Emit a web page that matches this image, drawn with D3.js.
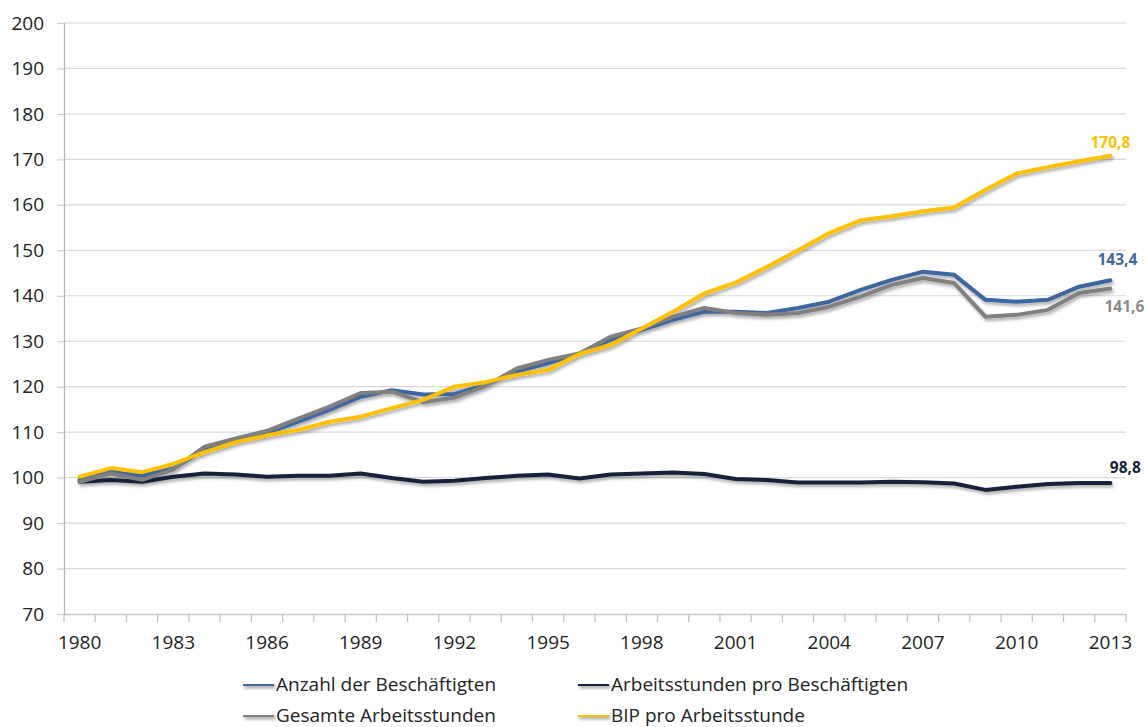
<!DOCTYPE html>
<html>
<head>
<meta charset="utf-8">
<script src="https://cdn.jsdelivr.net/npm/d3@7"></script>
<style>
    body { margin: 0; background: #fff; }
    svg { display: block; font-family: "Open Sans", sans-serif; }
    .grid line { stroke: #d9d9d9; stroke-width: 1.2; }
    .tick-label { font-size: 19px; fill: #222; }
    .end-label { font-size: 15.5px; font-weight: bold; }
    .legend text { font-size: 19px; fill: #222; }
</style>
</head>
<body>
<div id="chart"></div>
<script>
// Index 1980 = 100
var years = d3.range(1980, 2014);

var anzahl = [99.5, 101.3, 100.4, 102.0, 106.1, 108.0, 109.8, 112.3, 114.9, 117.8,
    119.2, 118.3, 118.4, 120.4, 123.3, 125.2, 127.3, 130.3, 132.5, 134.7,
    136.5, 136.5, 136.2, 137.3, 138.7, 141.3, 143.5, 145.3, 144.6, 139.1,
    138.7, 139.1, 142.0, 143.4];

var stundenProKopf = [99.1, 99.5, 99.1, 100.2, 100.9, 100.7, 100.2, 100.4, 100.4, 100.9,
    99.9, 99.1, 99.3, 99.9, 100.4, 100.7, 99.8, 100.7, 100.9, 101.1,
    100.8, 99.7, 99.5, 98.9, 98.9, 98.9, 99.1, 99.0, 98.7, 97.3,
    98.0, 98.6, 98.8, 98.8];

var gesamtStunden = [99.1, 100.9, 99.5, 101.8, 106.8, 108.6, 110.3, 113.0, 115.6, 118.6,
    118.9, 116.6, 117.6, 120.2, 124.0, 125.9, 127.3, 131.0, 132.8, 135.4,
    137.3, 136.2, 135.8, 136.2, 137.6, 139.8, 142.4, 143.9, 142.8, 135.4,
    135.8, 136.9, 140.6, 141.6];

var bipProStunde = [100.2, 102.1, 101.2, 103.0, 105.6, 107.8, 109.3, 110.5, 112.3, 113.4,
    115.3, 117.1, 120.0, 121.0, 122.6, 123.7, 127.2, 129.2, 132.8, 136.5,
    140.5, 142.9, 146.3, 150.0, 153.8, 156.6, 157.5, 158.6, 159.4, 163.3,
    166.9, 168.3, 169.6, 170.8];

var yTicks = d3.range(70, 201, 10);
var xTickYears = d3.range(1980, 2014, 3);

var series = [
    { name: "Anzahl der Beschäftigten", values: anzahl, color: "#3e679f", labelColor: "#3e679f", dx: 7, dy: -19 },
    { name: "Arbeitsstunden pro Beschäftigten", values: stundenProKopf, color: "#16223d", labelColor: "#16223d", dx: 15, dy: -14 },
    { name: "Gesamte Arbeitsstunden", values: gesamtStunden, color: "#808080", labelColor: "#8a8a8a", dx: 14, dy: 19 },
    { name: "BIP pro Arbeitsstunde", values: bipProStunde, color: "#ffc000", labelColor: "#ffc000", dx: 0, dy: -12 }
];

var width = 1146, height = 727;
var svg = d3.select("#chart").append("svg").attr("width", width).attr("height", height);

// soft drop shadow like the spreadsheet lines; user space so flat lines keep it too
var defs = svg.append("defs");
defs.append("filter").attr("id", "shadow")
    .attr("filterUnits", "userSpaceOnUse")
    .attr("x", 0).attr("y", 0).attr("width", width).attr("height", height)
  .append("feDropShadow")
    .attr("dx", 1.5).attr("dy", 2.5).attr("stdDeviation", 1.6)
    .attr("flood-color", "#000").attr("flood-opacity", 0.32);

var plot = { left: 64, right: 1126, top: 23, bottom: 614 };

var x = d3.scaleBand().domain(years).range([plot.left, plot.right]).paddingInner(0).paddingOuter(0);
var y = d3.scaleLinear().domain([70, 200]).range([plot.bottom, plot.top]);
var cx = function (yr) { return x(yr) + x.bandwidth() / 2; };

// gridlines
svg.append("g").attr("class", "grid")
    .selectAll("line")
    .data(yTicks.slice(1))
    .enter().append("line")
    .attr("x1", plot.left).attr("x2", plot.right)
    .attr("y1", function (d) { return y(d); })
    .attr("y2", function (d) { return y(d); });

// y axis
var yAxis = svg.append("g")
    .attr("transform", "translate(" + plot.left + ",0)")
    .call(d3.axisLeft(y).tickValues(yTicks).tickSize(7).tickPadding(13).tickFormat(d3.format("d")))
    .attr("font-family", null).attr("font-size", null);
yAxis.select(".domain").attr("stroke", "#b3b3b3").attr("stroke-width", 1.2);
yAxis.selectAll(".tick line").attr("stroke", "#cfcfcf").attr("stroke-width", 1.2);
yAxis.selectAll(".tick text").attr("class", "tick-label");

// x axis
var xAxis = svg.append("g")
    .attr("transform", "translate(0," + plot.bottom + ")")
    .call(d3.axisBottom(x).tickValues(xTickYears).tickSize(0).tickPadding(22))
    .attr("font-family", null).attr("font-size", null);
xAxis.select(".domain").attr("stroke", "#c8c8c8").attr("stroke-width", 1.5);
xAxis.selectAll(".tick text").attr("class", "tick-label");

// tick marks between categories
var edges = years.map(function (d) { return x(d); }).concat([plot.right]);
xAxis.selectAll(".edge")
    .data(edges)
    .enter().append("line")
    .attr("class", "edge")
    .attr("x1", function (d) { return d; })
    .attr("x2", function (d) { return d; })
    .attr("y1", 0).attr("y2", 8)
    .attr("stroke", "#bdbdbd").attr("stroke-width", 1.2);

// lines
var line = d3.line()
    .x(function (d, i) { return cx(years[i]); })
    .y(function (d) { return y(d); });

svg.append("g").attr("filter", "url(#shadow)")
    .selectAll("path")
    .data(series)
    .enter().append("path")
    .attr("d", function (d) { return line(d.values); })
    .attr("fill", "none")
    .attr("stroke", function (d) { return d.color; })
    .attr("stroke-width", 4)
    .attr("stroke-linejoin", "round")
    .attr("stroke-linecap", "round");

// end value labels
var fmt = function (v) { return v.toFixed(1).replace(".", ","); };
var last = years.length - 1;
svg.append("g")
    .selectAll("text")
    .data(series)
    .enter().append("text")
    .attr("class", "end-label")
    .attr("x", function (d) { return cx(years[last]) + d.dx; })
    .attr("y", function (d) { return y(d.values[last]) + d.dy; })
    .attr("text-anchor", "middle")
    .attr("dominant-baseline", "middle")
    .attr("fill", function (d) { return d.labelColor; })
    .text(function (d) { return fmt(d.values[last]); });

// legend
var legendPos = [
    { x: 243, y: 684 },
    { x: 578, y: 684 },
    { x: 243, y: 715 },
    { x: 578, y: 715 }
];
var legend = svg.append("g").attr("class", "legend")
    .selectAll("g")
    .data(series)
    .enter().append("g")
    .attr("transform", function (d, i) { return "translate(" + legendPos[i].x + "," + legendPos[i].y + ")"; });

legend.append("line")
    .attr("x1", 0).attr("x2", 31)
    .attr("y1", 0).attr("y2", 0)
    .attr("stroke", function (d) { return d.color; })
    .attr("stroke-width", 4)
    .attr("filter", "url(#shadow)");

legend.append("text")
    .attr("x", 33)
    .attr("y", 7)
    .text(function (d) { return d.name; });
</script>
</body>
</html>
